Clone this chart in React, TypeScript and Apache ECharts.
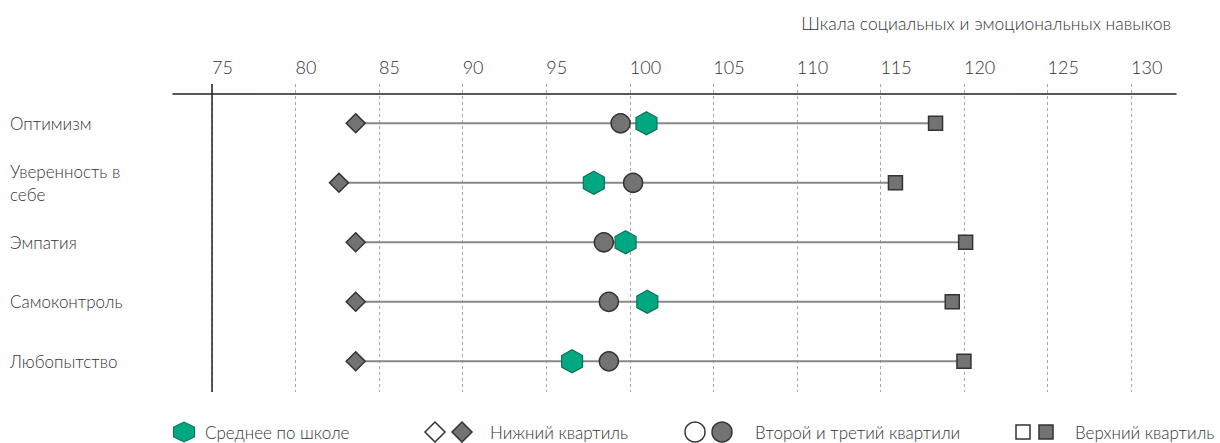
import React, { useEffect, useRef } from 'react';
import * as echarts from 'echarts';

const categories = ['Оптимизм', 'Уверенность в\nсебе', 'Эмпатия', 'Самоконтроль', 'Любопытство'];
const lowerQuartile = [83.6, 82.6, 83.6, 83.6, 83.6];
const middleQuartiles = [99.45, 100.2, 98.45, 98.75, 98.75];
const schoolMean = [101.0, 97.85, 99.75, 101.05, 96.55];
const upperQuartile = [118.3, 115.9, 120.1, 119.3, 120.0];
const tickValues = [75, 80, 85, 90, 95, 100, 105, 110, 115, 120, 125, 130];
const rowIndices = [0, 1, 2, 3, 4];
const axisTitle = 'Шкала социальных и эмоциональных навыков';
const legendLabels = ['Среднее по школе', 'Нижний квартиль', 'Второй и третий квартили', 'Верхний квартиль'];

const FONT = 'Lato, "Noto Sans", sans-serif';
const WEIGHT = 300;
const TEXT = '#333333';
const GREEN = '#00a882';
const GREEN_BORDER = '#0b6e55';
const GREY = '#737373';
const DARK = '#333333';
const HEX = 'path://M0,-1 L0.866,-0.5 L0.866,0.5 L0,1 L-0.866,0.5 L-0.866,-0.5 Z';

export default function App() {
  const ref = useRef<HTMLDivElement>(null);
  useEffect(() => {
    if (!ref.current) return;
    const chart = echarts.init(ref.current, null, { renderer: 'svg' });
    const ly = 432;
    const legendText = (x: number, t: string) => ({
      type: 'text', x, y: ly,
      style: { text: t, fill: TEXT, font: `${WEIGHT} 17px ${FONT}`, textVerticalAlign: 'middle', verticalAlign: 'middle' },
    });
    chart.setOption({
      animation: false,
      title: {
        text: axisTitle, right: 44, top: 9,
        textStyle: { fontFamily: FONT, fontSize: 17.5, fontWeight: WEIGHT, color: TEXT },
      },
      grid: { left: 173, right: 44, top: 84, bottom: 51 },
      xAxis: {
        type: 'value', position: 'top', offset: -10,
        min: 72.666, max: 132.69,
        axisLine: { show: true, onZero: false, lineStyle: { color: '#222', width: 1.5 } },
        axisTick: { show: false, customValues: tickValues },
        axisLabel: {
          customValues: tickValues, align: 'left', margin: 18,
          fontFamily: FONT, fontSize: 18, fontWeight: WEIGHT, color: TEXT,
        },
        splitLine: { show: true, lineStyle: { color: '#a8a8a8', type: [3, 3], width: 1 } },
      },
      yAxis: {
        type: 'value', inverse: true, min: -0.66, max: 4.516,
        axisLine: { show: false },
        axisTick: { show: false, customValues: rowIndices },
        splitLine: { show: false },
        axisLabel: {
          customValues: rowIndices, align: 'left', margin: 163,
          fontFamily: FONT, fontSize: 17, fontWeight: WEIGHT, color: TEXT, lineHeight: 23,
          formatter: (v: number) => categories[Math.round(v)],
        },
      },
      series: [
        {
          type: 'custom',
          silent: true,
          encode: { x: [0, 1], y: 2 },
          data: rowIndices.map((i) => [lowerQuartile[i], upperQuartile[i], i]),
          renderItem: (params: any, api: any) => {
            const p1 = api.coord([api.value(0), api.value(2)]);
            const p2 = api.coord([api.value(1), api.value(2)]);
            return {
              type: 'line',
              shape: { x1: p1[0], y1: p1[1], x2: p2[0], y2: p2[1] },
              style: { stroke: '#888888', lineWidth: 2 },
            };
          },
        },
        {
          type: 'scatter', name: legendLabels[1], symbol: 'diamond', symbolSize: 19,
          itemStyle: { color: GREY, borderColor: DARK, borderWidth: 1.5, opacity: 1 },
          data: rowIndices.map((i) => [lowerQuartile[i], i]),
          markLine: {
            silent: true, symbol: 'none', label: { show: false },
            lineStyle: { color: '#222', type: 'solid', width: 1.5 },
            data: [{ xAxis: tickValues[0] }],
          },
        },
        {
          type: 'scatter', name: legendLabels[3], symbol: 'rect', symbolSize: 14,
          itemStyle: { color: GREY, borderColor: DARK, borderWidth: 1.5, opacity: 1 },
          data: rowIndices.map((i) => [upperQuartile[i], i]),
        },
        {
          type: 'scatter', name: legendLabels[2], symbol: 'circle', symbolSize: 19,
          itemStyle: { color: GREY, borderColor: DARK, borderWidth: 1.5, opacity: 1 },
          data: rowIndices.map((i) => [middleQuartiles[i], i]),
        },
        {
          type: 'scatter', name: legendLabels[0], symbol: HEX, symbolSize: [21, 23],
          itemStyle: { color: GREEN, borderColor: GREEN_BORDER, borderWidth: 1.2, opacity: 1 },
          data: rowIndices.map((i) => [schoolMean[i], i]),
        },
      ],
      graphic: [
        {
          type: 'polygon',
          shape: { points: [[184, 422], [194.5, 427], [194.5, 437], [184, 442], [173.5, 437], [173.5, 427]] },
          style: { fill: GREEN, stroke: GREEN_BORDER, lineWidth: 1 },
        },
        legendText(205, legendLabels[0]),
        {
          type: 'polygon',
          shape: { points: [[435, 422], [445, 432], [435, 442], [425, 432]] },
          style: { fill: '#fff', stroke: DARK, lineWidth: 1.5 },
        },
        {
          type: 'polygon',
          shape: { points: [[462, 422], [472, 432], [462, 442], [452, 432]] },
          style: { fill: GREY, stroke: DARK, lineWidth: 1.5 },
        },
        legendText(490, legendLabels[1]),
        { type: 'circle', shape: { cx: 695, cy: ly, r: 10 }, style: { fill: '#fff', stroke: DARK, lineWidth: 1.5 } },
        { type: 'circle', shape: { cx: 722, cy: ly, r: 10 }, style: { fill: GREY, stroke: DARK, lineWidth: 1.5 } },
        legendText(755, legendLabels[2]),
        { type: 'rect', shape: { x: 1016, y: 425, width: 14, height: 14 }, style: { fill: '#fff', stroke: DARK, lineWidth: 1.5 } },
        { type: 'rect', shape: { x: 1039, y: 425, width: 14, height: 14 }, style: { fill: GREY, stroke: DARK, lineWidth: 1.5 } },
        legendText(1075, legendLabels[3]),
      ],
    });
    return () => chart.dispose();
  }, []);
  return <div ref={ref} style={{ position: 'absolute', left: 0, top: 0, width: 1220, height: 443 }} />;
}
